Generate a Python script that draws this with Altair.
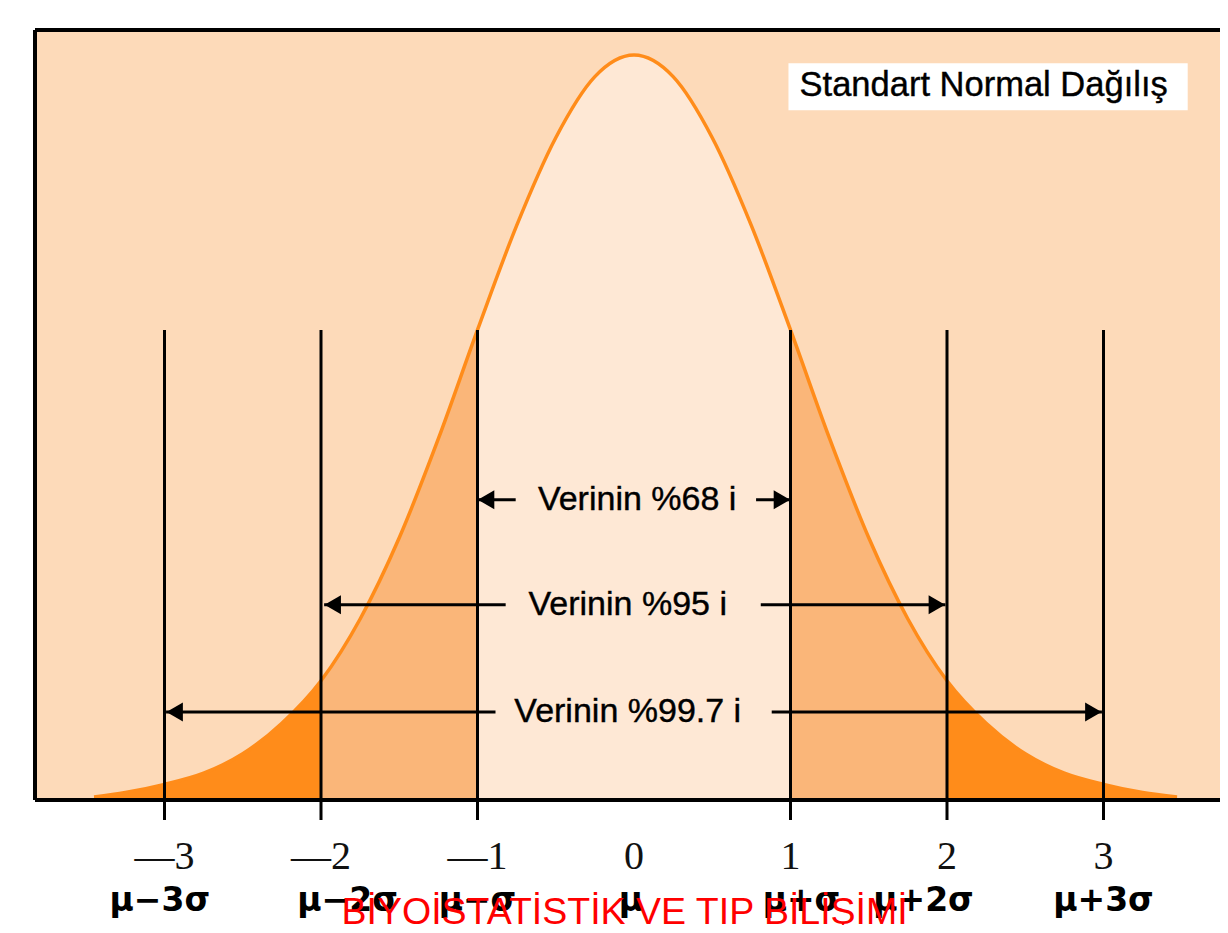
import altair as alt
import pandas as pd

# ---- data ----
curve_x = [-3.45, -3.25, -3.0, -2.75, -2.5, -2.25, -2.0, -1.75, -1.5, -1.25, -1.0, -0.75, -0.5, -0.25, 0.0,
           0.25, 0.5, 0.75, 1.0, 1.25, 1.5, 1.75, 2.0, 2.25, 2.5, 2.75, 3.0, 3.25, 3.47]
curve_y = [0.004, 0.010, 0.021, 0.036, 0.062, 0.103, 0.160, 0.243, 0.352, 0.485, 0.631, 0.771, 0.889, 0.971, 1.0,
           0.971, 0.889, 0.771, 0.631, 0.485, 0.352, 0.243, 0.160, 0.103, 0.062, 0.036, 0.021, 0.010, 0.004]

tick_values = [-3, -2, -1, 1, 2, 3]
tick_top = 0.631
tick_bottom = -0.027

number_values = [-3, -2, -1, 0, 1, 2, 3]
number_labels = ["\u20143", "\u20142", "\u20141", "0", "1", "2", "3"]

sigma_labels = ["\u03bc\u22123\u03c3", "\u03bc\u22122\u03c3", "\u03bc\u2212\u03c3", "\u03bc",
                "\u03bc+\u03c3", "\u03bc+2\u03c3", "\u03bc+3\u03c3"]
sigma_label_x = [-3.03, -1.83, -1.0, -0.02, 1.07, 1.85, 3.0]

band_labels = ["Verinin %68 i", "Verinin %95 i", "Verinin %99.7 i"]
band_label_x = [0.02, -0.04, -0.04]
band_y = [0.403, 0.262, 0.118]
band_left_start = [-0.756, -0.82, -0.885]
band_left_end = [-1.0, -1.98, -2.99]
band_right_start = [0.78, 0.81, 0.88]
band_right_end = [1.0, 1.99, 2.99]

legend_text = "Standart Normal Da\u011f\u0131l\u0131\u015f"
footer_text = "B\u0130YO\u0130STAT\u0130ST\u0130K VE TIP B\u0130L\u0130\u015e\u0130M\u0130"

# ---- tables ----
curve = pd.DataFrame({"x": curve_x, "y": curve_y})
center = curve[(curve.x >= -1) & (curve.x <= 1)]
mid_l = curve[(curve.x >= -2) & (curve.x <= -1)]
mid_r = curve[(curve.x >= 1) & (curve.x <= 2)]
tail_l = curve[curve.x <= -2]
tail_r = curve[curve.x >= 2]

PEACH = "#FDDAB9"
LIGHT = "#FEE8D5"
MED = "#FAB679"
DARK = "#FF8C1A"

W = 1185
H = 770
xs = alt.Scale(domain=[-3.8275, 3.7444], nice=False, zero=False)
ys = alt.Scale(domain=[0, 1.0336], nice=False, zero=False)
X = lambda f="x": alt.X(f"{f}:Q", scale=xs, axis=None)
Y = lambda f="y": alt.Y(f"{f}:Q", scale=ys, axis=None)


def area(df, color):
    return alt.Chart(df).mark_area(color=color, interpolate="monotone", opacity=1).encode(x=X(), y=Y())


areas = [area(center, LIGHT), area(mid_l, MED), area(mid_r, MED), area(tail_l, DARK), area(tail_r, DARK)]

line = alt.Chart(curve).mark_line(color=DARK, strokeWidth=3.5, interpolate="monotone").encode(x=X(), y=Y())

ticks_df = pd.DataFrame({"x": tick_values, "y": [tick_top] * 6, "y2": [tick_bottom] * 6})
vlines = alt.Chart(ticks_df).mark_rule(color="black", strokeWidth=3).encode(
    x=X(), y=Y(), y2="y2:Q")

# arrows
seg = pd.DataFrame({
    "x": band_left_start + band_right_start,
    "x2": band_left_end + band_right_end,
    "y": band_y + band_y,
})
arrow_lines = alt.Chart(seg).mark_rule(color="black", strokeWidth=3).encode(x=X(), x2="x2:Q", y=Y())

heads_l = pd.DataFrame({"x": [v + 0.055 for v in band_left_end], "y": band_y})
heads_r = pd.DataFrame({"x": [v - 0.055 for v in band_right_end], "y": band_y})
ah_l = alt.Chart(heads_l).mark_point(shape="triangle-left", filled=True, color="black", size=360, opacity=1).encode(x=X(), y=Y())
ah_r = alt.Chart(heads_r).mark_point(shape="triangle-right", filled=True, color="black", size=360, opacity=1).encode(x=X(), y=Y())

band_text_df = pd.DataFrame({"x": band_label_x, "y": band_y, "t": band_labels})
band_text = alt.Chart(band_text_df).mark_text(
    font="Liberation Sans", fontSize=34, color="black", align="center", baseline="middle",
    stroke="black", strokeWidth=0.4
).encode(x=X(), y=Y(), text="t:N")

# legend box
box_df = pd.DataFrame({"x": [0.987], "x2": [3.538], "y": [0.989], "y2": [0.926]})
box = alt.Chart(box_df).mark_rect(color="white").encode(x=X(), x2="x2:Q", y=Y(), y2="y2:Q")
box_text = alt.Chart(pd.DataFrame({"x": [1.058], "y": [0.958], "t": [legend_text]})).mark_text(
    font="Liberation Sans", fontSize=34.5, color="black", align="left", baseline="middle",
    stroke="black", strokeWidth=0.4
).encode(x=X(), y=Y(), text="t:N")

# bottom labels
num_df = pd.DataFrame({"x": number_values, "y": [-0.077] * 7, "t": number_labels})
nums = alt.Chart(num_df).mark_text(
    font="Liberation Serif", fontSize=40, color="#111111", align="center", baseline="middle"
).encode(x=X(), y=Y(), text="t:N")

sig_df = pd.DataFrame({"x": sigma_label_x, "y": [-0.136] * 7, "t": sigma_labels})
sigs = alt.Chart(sig_df).mark_text(
    font="DejaVu Sans", fontSize=33, fontWeight="bold", color="black", align="center", baseline="middle"
).encode(x=X(), y=Y(), text="t:N")

footer = alt.Chart(pd.DataFrame({"x": [-0.06], "y": [-0.166], "t": [footer_text]})).mark_text(
    font="Liberation Sans", fontSize=37.5, color="#FF0000", align="center", baseline="alphabetic"
).encode(x=X(), y=Y(), text="t:N")

# frame lines (top, left, bottom)
frame_top = alt.Chart(pd.DataFrame({"a": [0]})).mark_rule(color="black", strokeWidth=4).encode(
    x=alt.value(0), x2=alt.value(W), y=alt.value(0))
frame_left = alt.Chart(pd.DataFrame({"a": [0]})).mark_rule(color="black", strokeWidth=4).encode(
    x=alt.value(0), y=alt.value(0), y2=alt.value(H))
frame_bottom = alt.Chart(pd.DataFrame({"a": [0]})).mark_rule(color="black", strokeWidth=4).encode(
    x=alt.value(0), x2=alt.value(W), y=alt.value(H))

chart = alt.layer(
    *areas, line, vlines, arrow_lines, ah_l, ah_r, band_text, box, box_text,
    frame_top, frame_left, frame_bottom, nums, sigs, footer
).properties(
    width=W, height=H,
    autosize=alt.AutoSizeParams(type="none"),
    padding={"left": 27, "top": 22, "right": 0, "bottom": 125},
    background="white",
).configure_view(stroke=None, fill=PEACH)

chart.save("out.html", embed_options={"renderer": "svg", "actions": False})
